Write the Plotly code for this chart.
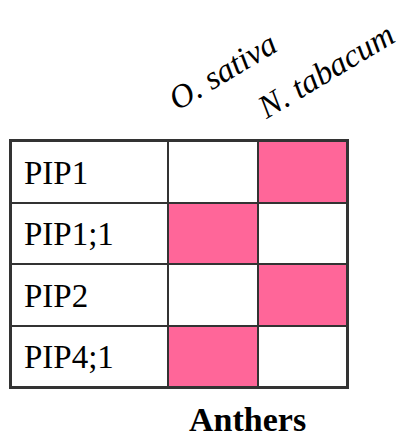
import plotly.graph_objects as go

genes = ["PIP1", "PIP1;1", "PIP2", "PIP4;1"]
species = ["O. sativa", "N. tabacum"]
o_sativa = [0, 1, 0, 1]
n_tabacum = [1, 0, 1, 0]
tissue = "Anthers"

# layout constants (the page body adds an 8px margin, so the figure is
# placed to compensate)
label_w = 1.76
edges = [0, label_w, label_w + 1, label_w + 2]
pink = "#FF6699"
line_c = "#333333"
serif = "Liberation Serif"

z = [[0, o_sativa[i], n_tabacum[i]] for i in range(len(genes))]

fig = go.Figure()
fig.add_trace(go.Heatmap(
    z=z, x=edges, y=list(range(len(genes))),
    colorscale=[[0, "white"], [1, pink]], zmin=0, zmax=1,
    showscale=False, xgap=2, ygap=2, hoverinfo="skip",
))

annotations = []
for i, g in enumerate(genes):
    annotations.append(dict(
        x=0, y=i, xref="x", yref="y", text=g, showarrow=False,
        xanchor="left", yanchor="middle", xshift=11, yshift=-1,
        font=dict(family=serif, size=33, color="black"),
    ))
for j, s in enumerate(species):
    cx = label_w + 0.5 + j
    annotations.append(dict(
        x=cx, y=1, xref="x", yref="paper", text="<i>" + s + "</i>",
        showarrow=False, textangle=-31, xanchor="center", yanchor="middle",
        xshift=10 + 13 * j, yshift=70,
        font=dict(family=serif, size=33, color="black"),
    ))
annotations.append(dict(
    x=label_w + 1, y=0, xref="x", yref="paper", text="<b>" + tissue + "</b>",
    showarrow=False, xanchor="center", yanchor="top", xshift=-10, yshift=-12,
    font=dict(family=serif, size=34, color="black"),
))

fig.update_layout(
    width=399, height=432,
    margin=dict(l=3, r=60, t=133, b=53),
    paper_bgcolor="white", plot_bgcolor=line_c,
    annotations=annotations,
    xaxis=dict(range=[edges[0], edges[-1]], showticklabels=False, showgrid=False,
               zeroline=False, ticks="", showline=True, linecolor=line_c,
               linewidth=2, mirror=True, fixedrange=True),
    yaxis=dict(range=[len(genes) - 0.5, -0.5], showticklabels=False, showgrid=False,
               zeroline=False, ticks="", showline=True, linecolor=line_c,
               linewidth=2, mirror=True, fixedrange=True),
)

fig.write_html("out.html")
